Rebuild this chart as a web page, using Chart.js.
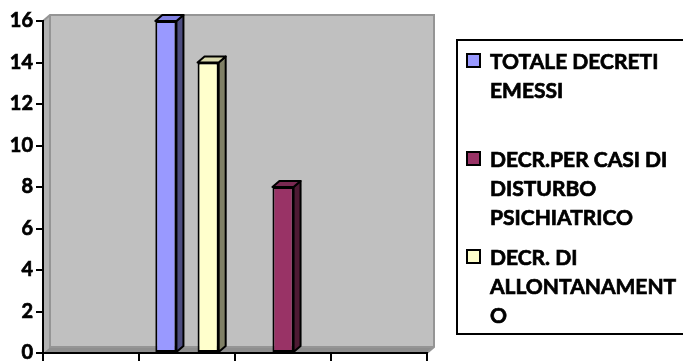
<!DOCTYPE html>
<html>
<head>
<meta charset="utf-8">
<script src="https://cdn.jsdelivr.net/npm/chart.js@4/dist/chart.umd.min.js"></script>
<style>
  html, body { margin: 0; padding: 0; background: #ffffff; }
  #wrap { width: 683px; height: 361px; position: relative; }
</style>
</head>
<body>
<div id="wrap"><canvas id="c" width="683" height="361"></canvas></div>
<script>
// Categories on the x axis (no visible labels)
const categories = ['', '', '', ''];

// Series names
const seriesNames = [
  'TOTALE DECRETI EMESSI',
  'DECR.PER CASI DI DISTURBO PSICHIATRICO',
  'DECR. DI ALLONTANAMENTO'
];

// Series values (null = no bar)
const totaleDecreti      = [null, 16, null, null];
const decrPsichiatrici   = [null, null, 8, null];
const decrAllontanamento = [null, 14, null, null];

// Y axis tick labels
const yTicks = [0, 2, 4, 6, 8, 10, 12, 14, 16];

// Colours: front, side, top faces
const palette = [
  { front: '#9999FF', side: '#4D4D80', top: '#8080E0' },
  { front: '#993366', side: '#4D1A33', top: '#7A2952' },
  { front: '#FFFFCC', side: '#808066', top: '#D9D9AD' }
];

const DX = 7, DY = 6;
const FONT = 'Lato, "Open Sans", sans-serif';

// Back wall, side wall and floor of the 3D plot box
const wallPlugin = {
  id: 'wall',
  beforeDraw(chart) {
    const { ctx, chartArea: a } = chart;
    ctx.save();
    ctx.fillStyle = '#C0C0C0';
    ctx.fillRect(a.left + DX, a.top - DY, a.right - a.left, a.bottom - a.top);
    ctx.fillStyle = '#B2B2B2';
    ctx.beginPath();
    ctx.moveTo(a.left, a.top);
    ctx.lineTo(a.left + DX, a.top - DY);
    ctx.lineTo(a.left + DX, a.bottom - DY);
    ctx.lineTo(a.left, a.bottom);
    ctx.closePath();
    ctx.fill();
    ctx.fillStyle = '#8E8E8E';
    ctx.beginPath();
    ctx.moveTo(a.left, a.bottom);
    ctx.lineTo(a.left + DX, a.bottom - DY);
    ctx.lineTo(a.right + DX, a.bottom - DY);
    ctx.lineTo(a.right, a.bottom);
    ctx.closePath();
    ctx.fill();
    ctx.strokeStyle = '#959595';
    ctx.lineWidth = 2;
    ctx.beginPath();
    ctx.moveTo(a.left, a.top);
    ctx.lineTo(a.left + DX, a.top - DY);
    ctx.lineTo(a.right + DX, a.top - DY);
    ctx.lineTo(a.right + DX, a.bottom - DY);
    ctx.lineTo(a.right, a.bottom);
    ctx.stroke();
    ctx.beginPath();
    ctx.moveTo(a.left + DX, a.top - DY);
    ctx.lineTo(a.left + DX, a.bottom - DY);
    ctx.lineTo(a.right + DX, a.bottom - DY);
    ctx.stroke();
    ctx.restore();
  }
};

// Side and top faces for each bar
const depthPlugin = {
  id: 'depth',
  afterDatasetsDraw(chart) {
    const ctx = chart.ctx;
    ctx.save();
    ctx.lineWidth = 2;
    ctx.lineJoin = 'round';
    ctx.strokeStyle = '#000';
    chart.data.datasets.forEach((ds, i) => {
      const meta = chart.getDatasetMeta(i);
      meta.data.forEach((bar, j) => {
        if (ds.data[j] == null) return;
        const p = bar.getProps(['x', 'y', 'base', 'width'], true);
        const l = p.x - p.width / 2, r = p.x + p.width / 2;
        ctx.fillStyle = palette[i].side;
        ctx.beginPath();
        ctx.moveTo(r, p.y);
        ctx.lineTo(r + DX, p.y - DY);
        ctx.lineTo(r + DX, p.base - DY);
        ctx.lineTo(r, p.base);
        ctx.closePath();
        ctx.fill();
        ctx.stroke();
        ctx.fillStyle = palette[i].top;
        ctx.beginPath();
        ctx.moveTo(l, p.y);
        ctx.lineTo(l + DX, p.y - DY);
        ctx.lineTo(r + DX, p.y - DY);
        ctx.lineTo(r, p.y);
        ctx.closePath();
        ctx.fill();
        ctx.stroke();
      });
    });
    ctx.restore();
  }
};

// Boxed legend with wrapped entries
function wrapText(ctx, text, maxW) {
  const words = text.split(' ');
  const lines = [];
  let line = '';
  for (const w of words) {
    const tryLine = line ? line + ' ' + w : w;
    if (ctx.measureText(tryLine).width <= maxW) { line = tryLine; continue; }
    if (line) lines.push(line);
    line = '';
    let chunk = '';
    for (const ch of w) {
      if (ctx.measureText(chunk + ch).width > maxW && chunk) { lines.push(chunk); chunk = ch; }
      else chunk += ch;
    }
    line = chunk;
  }
  if (line) lines.push(line);
  return lines;
}

const legendPlugin = {
  id: 'boxLegend',
  afterDraw(chart) {
    const ctx = chart.ctx;
    const box = { x: 457, y: 40, w: 260, h: 294 };
    ctx.save();
    ctx.lineWidth = 2;
    ctx.strokeStyle = '#000';
    ctx.strokeRect(box.x, box.y, box.w, box.h);
    ctx.font = 'bold 21px ' + FONT;
    ctx.textBaseline = 'middle';
    chart.data.datasets.forEach((ds, i) => {
      const y0 = 61 + i * 98;
      ctx.fillStyle = palette[i].front;
      ctx.fillRect(467, y0 - 7, 13, 13);
      ctx.lineWidth = 2;
      ctx.strokeRect(467, y0 - 7, 13, 13);
      ctx.fillStyle = '#000';
      ctx.lineWidth = 0.7;
      const lines = wrapText(ctx, ds.label, 683 - 490);
      lines.forEach((ln, k) => {
        ctx.fillText(ln, 490, y0 + 1 + k * 29);
        ctx.strokeText(ln, 490, y0 + 1 + k * 29);
      });
    });
    ctx.restore();
  }
};

new Chart(document.getElementById('c'), {
  type: 'bar',
  data: {
    labels: categories,
    datasets: [
      { label: seriesNames[0], data: totaleDecreti,      backgroundColor: palette[0].front },
      { label: seriesNames[1], data: decrPsichiatrici,   backgroundColor: palette[1].front },
      { label: seriesNames[2], data: decrAllontanamento, backgroundColor: palette[2].front }
    ].map(d => Object.assign(d, {
      borderColor: '#000', borderWidth: 2, borderSkipped: false,
      categoryPercentage: 0.66, barPercentage: 1
    }))
  },
  options: {
    responsive: false,
    animation: false,
    layout: { padding: { top: 21, right: 256, bottom: 0, left: 0 } },
    plugins: { legend: { display: false }, tooltip: { enabled: false } },
    scales: {
      x: {
        grid: { offset: true, drawOnChartArea: false, color: '#000', lineWidth: 2, tickLength: 8 },
        border: { color: '#000', width: 2 },
        ticks: { display: false },
        afterFit(s) { s.height = 8; s.paddingLeft = 0; s.paddingRight = 0; }
      },
      y: {
        min: 0, max: 16,
        afterBuildTicks(s) { s.ticks = yTicks.map(v => ({ value: v })); },
        ticks: {
          color: '#000', padding: 3,
          textStrokeColor: '#000', textStrokeWidth: 0.7,
          font: { family: FONT, weight: 'bold', size: 20 }
        },
        grid: { drawOnChartArea: false, color: '#000', lineWidth: 2, tickLength: 7 },
        border: { color: '#000', width: 2 },
        afterFit(s) { s.width = 43; s.paddingTop = 0; s.paddingBottom = 0; }
      }
    }
  },
  plugins: [wallPlugin, depthPlugin, legendPlugin]
});
</script>
</body>
</html>
